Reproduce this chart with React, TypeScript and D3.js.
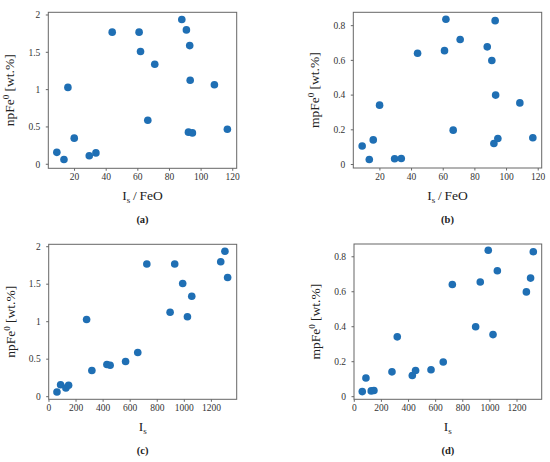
import * as d3 from 'd3';
import React from 'react';

// one entry per sample, same order in every array
const isFeO = [8.8, 13.3, 15.8, 19.8, 29.3, 33.5, 43.8, 60.8, 61.7, 66.3, 70.7, 87.8, 90.7, 92.8, 93.1, 92.0, 94.5, 108.4, 116.6];
const isVal = [86, 59, 278, 317, 125, 145, 723, 929, 988, 656, 1055, 1300, 1269, 1320, 895, 428, 452, 1023, 566];
const npFe = [0.16, 0.063, 1.03, 0.35, 0.115, 0.152, 1.77, 1.77, 1.51, 0.59, 1.34, 1.94, 1.80, 1.59, 1.125, 0.43, 0.42, 1.065, 0.47];
const mpFe = [0.107, 0.029, 0.142, 0.342, 0.033, 0.035, 0.641, 0.656, 0.837, 0.198, 0.72, 0.678, 0.599, 0.829, 0.40, 0.121, 0.150, 0.355, 0.154];

const ratioTicks = [20, 40, 60, 80, 100, 120];
const isTicks = [0, 200, 400, 600, 800, 1000, 1200];
const npTicks = [0, 0.5, 1, 1.5, 2];
const mpTicks = [0, 0.2, 0.4, 0.6, 0.8];

const FONT = "'Liberation Serif', 'DejaVu Serif', serif";
const DOT = '#1f6fb4';
const FRAME = '#666';

type PanelProps = {
  xs: number[]; ys: number[];
  box: [number, number, number, number]; // left, top, right, bottom
  xDomain: [number, number]; yDomain: [number, number];
  xTicks: number[]; yTicks: number[];
  xLabel: 'ratio' | 'is';
  yLabel: string;
  caption: string;
};

function Panel({ xs, ys, box, xDomain, yDomain, xTicks, yTicks, xLabel, yLabel, caption }: PanelProps) {
  const [l, t, r, b] = box;
  const x = d3.scaleLinear().domain(xDomain).range([l, r]);
  const y = d3.scaleLinear().domain(yDomain).range([b, t]);
  const cx = (l + r) / 2;
  const cy = (t + b) / 2;
  const fmt = (v: number) => String(v);

  return (
    <g fontFamily={FONT} fill="#222">
      <rect x={l} y={t} width={r - l} height={b - t} fill="none" stroke={FRAME} strokeWidth={1} />
      {xTicks.map(v => (
        <g key={'x' + v}>
          <line x1={x(v)} x2={x(v)} y1={b} y2={b + 2.5} stroke={FRAME} />
          <text x={x(v)} y={b + 12} fontSize={9.5} fill="#333" textAnchor="middle">{fmt(v)}</text>
        </g>
      ))}
      {yTicks.map(v => (
        <g key={'y' + v}>
          <line x1={l - 2.5} x2={l} y1={y(v)} y2={y(v)} stroke={FRAME} />
          <text x={l - 8} y={y(v) + 3.3} fontSize={9.5} fill="#333" textAnchor="end">{fmt(v)}</text>
        </g>
      ))}
      {xs.map((v, i) => (
        <circle key={i} cx={x(v)} cy={y(ys[i])} r={3.8} fill={DOT} />
      ))}
      <text x={cx} y={b + 32} fontSize={13.5} textAnchor="middle">
        I<tspan fontSize={9} dy={3}>s</tspan>
        {xLabel === 'ratio' ? <tspan dy={-3}>{'\u2009/\u2009FeO'}</tspan> : null}
      </text>
      <text transform={`translate(${l - 34},${cy}) rotate(-90)`} fontSize={13.5} textAnchor="middle">
        {yLabel}Fe<tspan fontSize={9} dy={-5}>0</tspan><tspan dy={5}> [wt.%]</tspan>
      </text>
      <text x={cx} y={b + 55} fontSize={10.5} fontWeight="bold" textAnchor="middle">{caption}</text>
    </g>
  );
}

export default function App() {
  return (
    <svg width={550} height={462} style={{ position: 'absolute', left: 0, top: 0, background: '#fff' }}>
      <Panel xs={isFeO} ys={npFe} box={[48.3, 12.3, 236.7, 168.3]} xDomain={[3.4, 122.5]} yDomain={[-0.054, 2.036]}
        xTicks={ratioTicks} yTicks={npTicks} xLabel="ratio" yLabel="np" caption="(a)" />
      <Panel xs={isFeO} ys={mpFe} box={[353.3, 12.3, 541.7, 168]} xDomain={[3.2, 122.2]} yDomain={[-0.02, 0.877]}
        xTicks={ratioTicks} yTicks={mpTicks} xLabel="ratio" yLabel="mp" caption="(b)" />
      <Panel xs={isVal} ys={npFe} box={[48.7, 244.3, 236.7, 399.3]} xDomain={[-2, 1387]} yDomain={[-0.035, 2.032]}
        xTicks={isTicks} yTicks={npTicks} xLabel="is" yLabel="np" caption="(c)" />
      <Panel xs={isVal} ys={mpFe} box={[354, 244, 541.7, 399.3]} xDomain={[-2, 1382]} yDomain={[-0.015, 0.873]}
        xTicks={isTicks} yTicks={mpTicks} xLabel="is" yLabel="mp" caption="(d)" />
    </svg>
  );
}
